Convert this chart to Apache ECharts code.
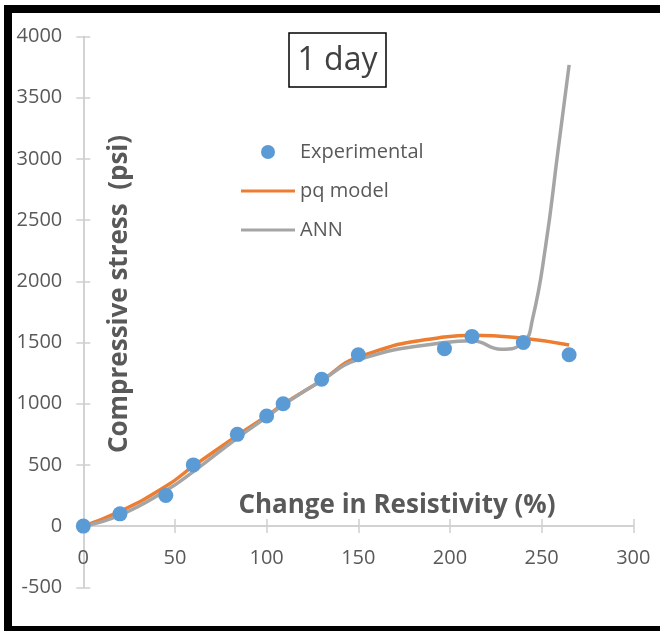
<!DOCTYPE html>
<html>
<head>
<meta charset="utf-8">
<script src="https://cdn.jsdelivr.net/npm/echarts@6/dist/echarts.min.js"></script>
<style>
html,body{margin:0;padding:0;background:#fff;}
#chart{width:660px;height:631px;}
</style>
</head>
<body>
<div id="chart"></div>
<script>
const xValues = [0, 20, 45, 60, 84, 100, 109, 130, 150, 197, 212, 240, 265];
const experimental = [0, 100, 250, 500, 750, 900, 1000, 1200, 1400, 1450, 1550, 1500, 1400];
const pqModel = [0, 120, 325, 490, 740, 900, 995, 1190, 1380, 1545, 1560, 1535, 1480];
const annX = [0, 20, 45, 60, 84, 100, 109, 130, 150, 197, 212, 228, 240, 245, 252, 259, 265];
const ann = [0, 90, 290, 445, 720, 890, 990, 1190, 1360, 1500, 1515, 1445, 1502, 1690, 2270, 3075, 3769];
const xTicks = [0, 50, 100, 150, 200, 250, 300];
const yTicks = [-500, 0, 500, 1000, 1500, 2000, 2500, 3000, 3500, 4000];

const FONT = '"Open Sans", "Liberation Sans", sans-serif';
const TXT = '#595959';
const AXIS = '#D0D0D0';

function pairs(xs, ys) { return xs.map((x, i) => [x, ys[i]]); }

const LINE_ICON = 'path://M0,0L0.01,0L0.01,0.01Z M0,5.5L54,5.5L54,8.5L0,8.5Z M53.99,13.99L54,13.99L54,14Z';

const chart = echarts.init(document.getElementById('chart'), null, {renderer: 'canvas'});

const xBase = {
  type: 'value', min: xTicks[0], max: xTicks[xTicks.length - 1], interval: 50,
  position: 'bottom',
  axisLine: {show: true, onZero: true, onZeroAxisIndex: 0, lineStyle: {color: AXIS, width: 1.5}},
  splitLine: {show: false}
};
const yBase = {
  type: 'value', min: yTicks[0], max: yTicks[yTicks.length - 1], interval: 500,
  position: 'left', gridIndex: 0,
  axisLine: {show: true, onZero: true, onZeroAxisIndex: 0, lineStyle: {color: AXIS, width: 1.5}},
  splitLine: {show: false}
};

chart.setOption({
  animation: false,
  backgroundColor: '#fff',
  grid: [
    {left: 83.3, right: 26.7, top: 36.6, bottom: 43.7, containLabel: false},
    {left: 83.3, right: 26.7, top: 36.6, bottom: 104.3, containLabel: false}
  ],
  xAxis: [
    Object.assign({}, xBase, {
      gridIndex: 0,
      axisTick: {show: true, inside: false, length: 7, lineStyle: {color: AXIS, width: 1.5}},
      axisLabel: {show: false}
    }),
    Object.assign({}, xBase, {
      gridIndex: 0,
      axisTick: {show: true, inside: true, length: 7, lineStyle: {color: AXIS, width: 1.5}},
      axisLabel: {show: false}
    }),
    {
      type: 'value', gridIndex: 1, min: xTicks[0], max: xTicks[xTicks.length - 1], interval: 50,
      position: 'bottom',
      axisLine: {show: false, onZero: false}, axisTick: {show: false}, splitLine: {show: false},
      axisLabel: {show: true, margin: 22, color: TXT, fontSize: 20, fontFamily: FONT}
    }
  ],
  yAxis: [
    Object.assign({}, yBase, {
      axisTick: {show: true, inside: false, length: 7, lineStyle: {color: AXIS, width: 1.5}},
      axisLabel: {show: true, margin: 21, color: TXT, fontSize: 20, fontFamily: FONT,
        formatter: function (v) { return String(v); }}
    }),
    Object.assign({}, yBase, {
      axisTick: {show: true, inside: true, length: 7, lineStyle: {color: AXIS, width: 1.5}},
      axisLabel: {show: false}
    }),
    {
      type: 'value', gridIndex: 1, min: 0, max: 1, show: false,
      axisLine: {show: false}, axisTick: {show: false}, axisLabel: {show: false}, splitLine: {show: false}
    }
  ],
  legend: {
    orient: 'vertical', left: 241, top: 142, padding: 0,
    itemWidth: 54, itemHeight: 14, itemGap: 19,
    textStyle: {color: TXT, fontSize: 20, fontFamily: FONT},
    data: [
      {name: 'Experimental', icon: 'circle'},
      {name: 'pq model', icon: LINE_ICON},
      {name: 'ANN', icon: LINE_ICON}
    ]
  },
  series: [
    {
      name: 'pq model', type: 'line', data: pairs(xValues, pqModel), smooth: 0.5,
      xAxisIndex: 0, yAxisIndex: 0,
      showSymbol: false, symbol: 'none', z: 3,
      lineStyle: {color: '#ED7D31', width: 3.5}, itemStyle: {color: '#ED7D31'}
    },
    {
      name: 'ANN', type: 'line', data: pairs(annX, ann), smooth: 0.5,
      xAxisIndex: 0, yAxisIndex: 0,
      showSymbol: false, symbol: 'none', z: 4,
      lineStyle: {color: '#A5A5A5', width: 3.5}, itemStyle: {color: '#A5A5A5'}
    },
    {
      name: 'Experimental', type: 'scatter', data: pairs(xValues, experimental),
      xAxisIndex: 0, yAxisIndex: 0,
      symbol: 'circle', symbolSize: 15, z: 5,
      itemStyle: {color: '#5B9BD5', opacity: 1}
    }
  ],
  graphic: [
    {
      type: 'rect', shape: {x: 8, y: 9, width: 720, height: 621},
      style: {fill: 'none', stroke: '#000', lineWidth: 8}, z: 100, silent: true
    },
    {
      type: 'rect', shape: {x: 289, y: 33, width: 97, height: 54},
      style: {fill: '#fff', stroke: '#000', lineWidth: 1.5}, z: 50
    },
    {
      type: 'text', x: 337.5, y: 61, z: 51,
      style: {text: '1 day', fill: '#404040', font: '32px ' + FONT, textAlign: 'center', textVerticalAlign: 'middle'}
    },
    {
      type: 'text', x: 120, y: 294, rotation: Math.PI / 2, z: 51,
      style: {text: 'Compressive stress  (psi)', fill: TXT, font: 'bold 26px ' + FONT, textAlign: 'center', textVerticalAlign: 'middle'}
    },
    {
      type: 'text', x: 397, y: 506, z: 51,
      style: {text: 'Change in Resistivity (%)', fill: TXT, font: 'bold 26px ' + FONT, textAlign: 'center', textVerticalAlign: 'middle'}
    }
  ]
});
</script>
</body>
</html>
